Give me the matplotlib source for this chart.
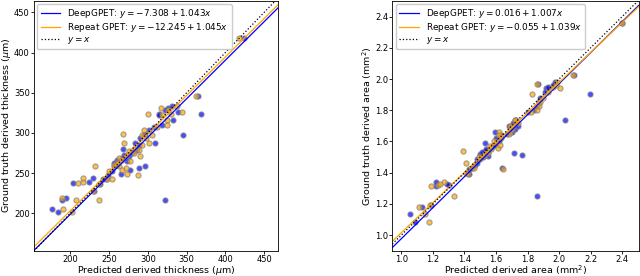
import matplotlib.pyplot as plt
import numpy as np

# ---- thickness panel (um): ground truth, DeepGPET prediction, repeat GPET
thk_gt = [205.7, 201.6, 218.7, 215.9, 216.7, 237.5, 239.5, 244.4, 258.7, 247.7,
          256.6, 258.7, 242.4, 253.4, 248.5, 280.3, 287.2, 298.2, 323.9, 330.8,
          323.9, 346.3, 297.4, 287.2, 417.6, 270.9, 334.1, 328.0, 315.7, 309.6,
          307.6, 303.5, 297.4, 293.3, 285.2, 279.1, 275.0, 272.9, 268.9, 266.8,
          262.8, 260.7, 264.8, 277.0, 252.6, 243.2, 236.3, 228.1, 321.8, 325.9]
thk_deep = [175.7, 183.8, 194.5, 322.8, 189.3, 203.0, 224.3, 229.4, 256.3, 249.0,
            289.1, 296.8, 245.6, 277.6, 264.8, 268.2, 284.0, 296.8, 313.8, 326.6,
            368.4, 365.0, 344.9, 309.5, 423.8, 275.4, 330.9, 322.3, 333.0, 318.1,
            307.4, 301.0, 294.6, 290.4, 288.2, 286.1, 279.7, 269.1, 266.9, 260.5,
            256.3, 260.5, 273.3, 281.8, 254.1, 242.2, 238.4, 230.7, 313.8, 339.4]
thk_rep = [190.2, 202.1, 188.9, 237.5, 207.2, 210.2, 216.6, 215.8, 231.5, 287.4,
           271.2, 262.7, 254.1, 266.9, 272.5, 281.8, 269.1, 268.2, 299.7, 316.8,
           330.0, 362.0, 305.3, 301.0, 418.2, 290.4, 337.3, 326.6, 324.5, 325.3,
           311.7, 294.6, 292.5, 297.6, 292.5, 288.2, 281.8, 273.3, 262.7, 266.1,
           260.5, 256.3, 277.6, 275.4, 249.9, 246.9, 237.1, 228.6, 318.1, 343.6]

# ---- area panel (mm^2)
area_gt = [1.137, 1.084, 1.18, 1.312, 1.32, 1.34, 1.33, 1.253, 1.19, 1.537,
           1.465, 1.427, 1.425, 1.659, 1.526, 1.512, 1.905, 1.968, 1.739, 2.027,
           2.358, 1.979, 1.943, 1.40, 1.39, 1.43, 1.45, 1.49, 1.50, 1.52,
           1.53, 1.51, 1.55, 1.57, 1.59, 1.60, 1.62, 1.64, 1.65, 1.66,
           1.68, 1.70, 1.72, 1.74, 1.70, 1.79, 1.80, 1.83, 1.85, 1.88,
           1.92, 1.95, 1.96, 1.56, 1.58]
area_deep = [1.053, 1.086, 1.13, 1.217, 1.30, 1.22, 1.29, 1.862, 1.19, 1.53,
             1.48, 1.637, 1.43, 1.595, 1.715, 1.767, 2.198, 1.868, 2.04, 2.093,
             2.396, 1.973, 1.92, 1.42, 1.43, 1.45, 1.47, 1.48, 1.52, 1.50,
             1.51, 1.55, 1.54, 1.58, 1.53, 1.62, 1.60, 1.63, 1.67, 1.70,
             1.72, 1.74, 1.71, 1.73, 1.68, 1.80, 1.84, 1.86, 1.87, 1.88,
             1.91, 1.93, 1.96, 1.57, 1.59]
area_rep = [1.149, 1.174, 1.115, 1.19, 1.23, 1.27, 1.245, 1.332, 1.18, 1.389,
            1.412, 1.45, 1.647, 1.62, 1.55, 1.53, 1.826, 1.86, 1.72, 2.087,
            2.40, 1.985, 2.005, 1.41, 1.42, 1.46, 1.46, 1.50, 1.49, 1.53,
            1.55, 1.52, 1.57, 1.56, 1.60, 1.59, 1.63, 1.62, 1.68, 1.69,
            1.70, 1.69, 1.74, 1.72, 1.71, 1.82, 1.86, 1.87, 1.88, 1.90,
            1.93, 1.96, 1.98, 1.61, 1.625]

# fit coefficients shown in the legends (intercept, slope)
thk_fit_deep = (-7.308, 1.043)
thk_fit_rep = (-12.245, 1.045)
area_fit_deep = (0.016, 1.007)
area_fit_rep = (-0.055, 1.039)


def panel(ax, gt, deep, rep, fit_deep, fit_rep, lims, ticks, xlabel, ylabel):
    ax.scatter(deep, gt, s=14, color='blue', alpha=0.7, edgecolors='gray', linewidths=0.8)
    ax.scatter(rep, gt, s=14, color='orange', alpha=0.7, edgecolors='gray', linewidths=0.8)
    xs = np.array(lims[0])
    a, b = fit_deep
    ax.plot(xs, (xs - a) / b, color='blue', lw=0.9,
            label=f'DeepGPET: $y = {a:.3f} + {b:.3f}x$')
    a, b = fit_rep
    ax.plot(xs, (xs - a) / b, color='orange', lw=0.9,
            label=f'Repeat GPET: $y = {a:.3f} + {b:.3f}x$')
    ax.plot(xs, xs, color='black', ls=':', lw=0.9, label='$y = x$')
    ax.set_xlim(lims[0])
    ax.set_ylim(lims[1])
    ax.set_xticks(ticks)
    ax.set_yticks(ticks)
    ax.tick_params(labelsize=6, length=2, width=0.6, pad=1)
    ax.set_xlabel(xlabel, fontsize=6.8, labelpad=0)
    ax.set_ylabel(ylabel, fontsize=6.8, labelpad=0.5)
    for sp in ax.spines.values():
        sp.set_linewidth(0.6)
    ax.legend(loc='upper left', fontsize=6.4, handlelength=2.2, borderpad=0.35,
              labelspacing=0.1, borderaxespad=0.4, framealpha=1, fancybox=True)


fig = plt.figure(figsize=(6.4, 2.76), dpi=100)
ax1 = fig.add_axes([0.053, 0.092, 0.382, 0.905])
ax2 = fig.add_axes([0.613, 0.092, 0.385, 0.905])

panel(ax1, thk_gt, thk_deep, thk_rep, thk_fit_deep, thk_fit_rep,
      ((153, 468.5), (153.5, 464.5)), [200, 250, 300, 350, 400, 450],
      r'Predicted derived thickness ($\mu$m)', r'Ground truth derived thickness ($\mu$m)')
panel(ax2, area_gt, area_deep, area_rep, area_fit_deep, area_fit_rep,
      ((0.943, 2.505), (0.901, 2.501)), [1.0, 1.2, 1.4, 1.6, 1.8, 2.0, 2.2, 2.4],
      r'Predicted derived area (mm$^2$)', r'Ground truth derived area (mm$^2$)')

fig.savefig('out.png', dpi=100)
